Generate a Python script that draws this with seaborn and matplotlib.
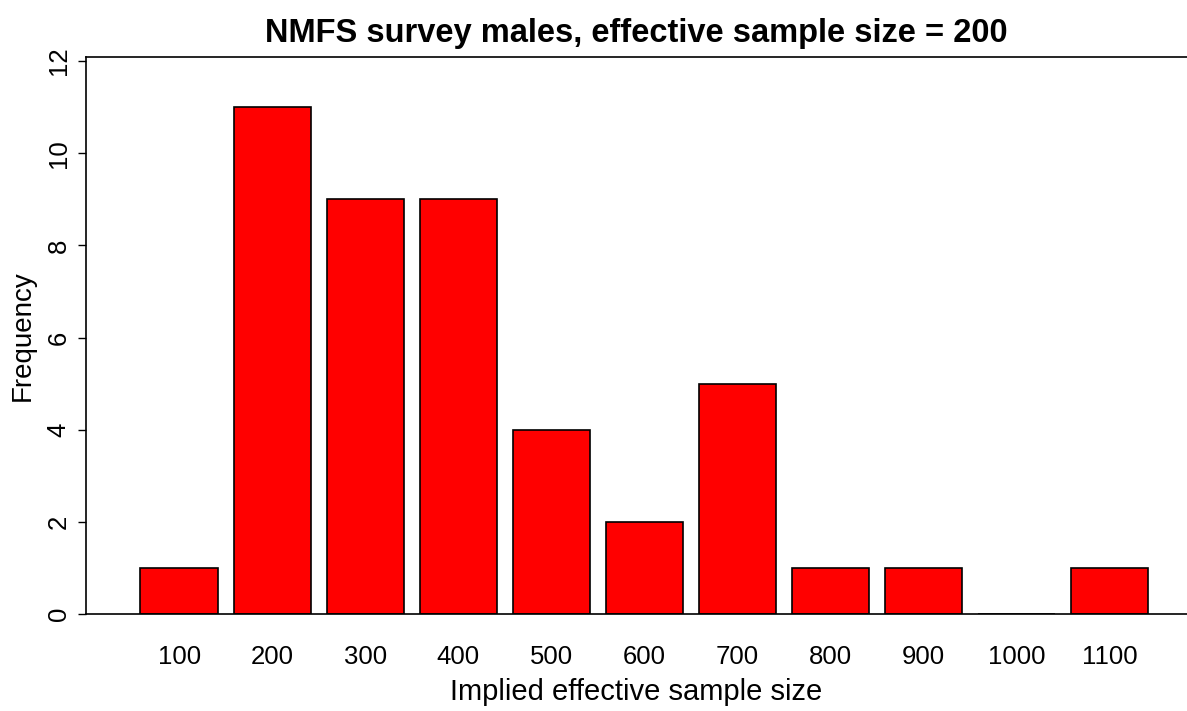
import pandas as pd
import matplotlib.pyplot as plt
import seaborn as sns

# 数据
sizes = ["100", "200", "300", "400", "500", "600", "700", "800", "900", "1000", "1100"]
freq = [1, 11, 9, 9, 4, 2, 5, 1, 1, 0, 1]
yticks = [0, 2, 4, 6, 8, 10, 12]

df = pd.DataFrame({"size": sizes, "freq": freq})

sns.set_theme(style="ticks")
plt.rcParams["font.family"] = ["Liberation Sans", "DejaVu Sans"]
plt.rcParams["text.color"] = "black"
plt.rcParams["axes.labelcolor"] = "black"
plt.rcParams["xtick.color"] = "black"
plt.rcParams["ytick.color"] = "black"

fig = plt.figure(figsize=(11.87, 7.11), dpi=100)
ax = fig.add_axes([86 / 1187, 1 - 614 / 711, 1 - 86 / 1187, (614 - 57) / 711])

sns.barplot(data=df, x="size", y="freq", color="red", saturation=1,
            edgecolor="black", linewidth=1.2, width=0.83, ax=ax)

ax.set_xlim(-1.0, 10.83)
ax.set_ylim(0, 12.09)
ax.set_yticks(yticks)
ax.set_yticklabels([str(t) for t in yticks], rotation=90, va="center", fontsize=18.5)
ax.tick_params(axis="y", length=6, width=1, pad=5)
ax.tick_params(axis="x", length=0, pad=22, labelsize=18.5)

ax.spines["right"].set_visible(False)
for s in ["left", "top", "bottom"]:
    ax.spines[s].set_linewidth(1.2)
    ax.spines[s].set_color("black")

ax.set_title("NMFS survey males, effective sample size = 200",
             fontsize=23.5, fontweight="bold", pad=11)
ax.set_xlabel("Implied effective sample size", fontsize=21, labelpad=7)
ax.set_ylabel("Frequency", fontsize=20, labelpad=8)

plt.savefig("out.png", dpi=100)
